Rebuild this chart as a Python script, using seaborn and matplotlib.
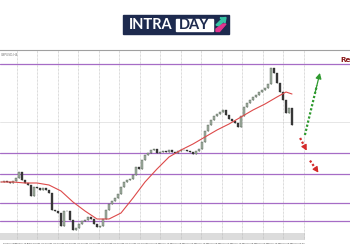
import numpy as np
import pandas as pd
import matplotlib
matplotlib.use("Agg")
import matplotlib.pyplot as plt
import seaborn as sns
from matplotlib.patches import Rectangle, Polygon

# ---------------- data ----------------
closes = [1.1755, 1.1760, 1.1755, 1.1750, 1.1760, 1.1775, 1.1805, 1.1765, 1.1750, 1.1740,
          1.1685, 1.1730, 1.1725, 1.1715, 1.1725, 1.1715, 1.1700, 1.1615, 1.1610, 1.1600,
          1.1535, 1.1610, 1.1610, 1.1565, 1.1515, 1.1525, 1.1545, 1.1560, 1.1565, 1.1580,
          1.1570, 1.1545, 1.1530, 1.1535, 1.1570, 1.1615, 1.1645, 1.1660, 1.1675, 1.1695,
          1.1730, 1.1755, 1.1765, 1.1770, 1.1790, 1.1830, 1.1820, 1.1865, 1.1890, 1.1900,
          1.1915, 1.1920, 1.1900, 1.1905, 1.1910, 1.1905, 1.1915, 1.1905, 1.1900, 1.1910,
          1.1915, 1.1915, 1.1910, 1.1905, 1.1895, 1.1910, 1.1920, 1.1955, 1.2010, 1.2040,
          1.2065, 1.2085, 1.2095, 1.2105, 1.2115, 1.2090, 1.2070, 1.2060, 1.2050, 1.2030,
          1.2085, 1.2130, 1.2150, 1.2165, 1.2180, 1.2190, 1.2205, 1.2215, 1.2225, 1.2245,
          1.2325, 1.2300, 1.2250, 1.2205, 1.2165, 1.2100, 1.2125, 1.2040]
opens = [closes[0]] + closes[:-1]

ma_index = [0, 4, 8, 12, 16, 20, 24, 28, 32, 36, 40, 44, 48, 52, 56, 60, 64, 68,
            72, 76, 80, 84, 88, 92, 95, 97]
ma_values = [1.1755, 1.1755, 1.1750, 1.1750, 1.1740, 1.1710, 1.1655, 1.1610, 1.1570,
             1.1570, 1.1600, 1.1675, 1.1755, 1.1820, 1.1880, 1.1915, 1.1945, 1.1980,
             1.2015, 1.2045, 1.2080, 1.2115, 1.2145, 1.2180, 1.2205, 1.2195]

levels = [1.2345, 1.1900, 1.1795, 1.1650, 1.1560]
grid_price = [1.2055]

tick_labels = ["29 May 2020", "29 May 16:00", "1 Jun 08:00", "2 Jun 00:00", "2 Jun 16:00",
               "3 Jun 08:00", "4 Jun 00:00", "4 Jun 16:00", "5 Jun 08:00", "8 Jun 00:00",
               "8 Jun 16:00", "9 Jun 08:00", "10 Jun 00:00", "10 Jun 16:00", "11 Jun 08:00",
               "12 Jun 00:00", "12 Jun 16:00", "15 Jun 08:00", "16 Jun 00:00", "16 Jun 16:00",
               "17 Jun 08:00", "18 Jun 00:00", "18 Jun 16:00", "19 Jun 08:00", "22 Jun 00:00"]

symbol_label = "GBPUSD,H4"
level_label = "Resistance"

# ---------------- figure ----------------
sns.set_style("white")
plt.rcParams['font.family'] = ['DejaVu Sans']
fig = plt.figure(figsize=(3.5, 2.5), dpi=100)
fig.patch.set_facecolor("white")
ax = fig.add_axes([0, 0.04, 1, 0.76])
ax.set_xlim(-1 / 3, 349 / 3)
ax.set_ylim(1.1465, 1.2415)

df = pd.DataFrame({"i": np.arange(len(closes)), "open": opens, "close": closes})
df["up"] = df["close"] >= df["open"]

# bottom gray band
ax.axhspan(1.1465, 1.1500, xmin=0, xmax=305 / 350, color="#dcdcdc", lw=0, zorder=0)

# vertical grid (minor ticks) and tick labels (major ticks)
grid_x = [(16.7 + 20.5 * k - 1) / 3 for k in range(15)]
ax.set_xticks(grid_x, minor=True)
ax.grid(which="minor", axis="x", color="#b8b8b8", lw=0.5, ls=(0, (1, 1)))
label_x = [(2 + 12 * k) / 3 for k in range(len(tick_labels))]
ax.set_xticks(label_x)
ax.set_xticklabels(tick_labels, ha="left", fontsize=1.5, color="#444444")
ax.tick_params(axis="x", which="both", length=0, pad=1.8)
ax.set_yticks([])
for p in grid_price:
    ax.axhline(p, color="#e2e2e2", lw=0.6, zorder=0.5)

for s in ["left", "right", "bottom"]:
    ax.spines[s].set_visible(False)
ax.spines["top"].set_color("#a0a0a0")
ax.spines["top"].set_linewidth(0.8)

# levels
for lv in levels:
    ax.axhline(lv, color="#a66cc6", lw=0.9, zorder=1)

# candles
up = df[df["up"]]
dn = df[~df["up"]]
ax.vlines(df["i"], df[["open", "close"]].min(axis=1), df[["open", "close"]].max(axis=1),
          color="#3a463a", lw=0.45, zorder=2.5)
ax.bar(up["i"], (up["close"] - up["open"]).clip(lower=0.0002), bottom=up["open"],
       width=0.45, color="#a3b1a3", edgecolor="#3b4a3b", linewidth=0.25, zorder=3)
ax.bar(dn["i"], dn["close"] - dn["open"], bottom=dn["open"],
       width=0.45, color="#3a3a3a", edgecolor="#2a2a2a", linewidth=0.25, zorder=3)

# moving average
sns.lineplot(x=ma_index, y=ma_values, ax=ax, color="#dd4a4a", lw=0.8, zorder=4)
ax.set_xlabel("")
ax.set_ylabel("")


def dotted_arrow(x0, y0, x1, y1, color):
    ax.plot([x0, x0 + 0.8 * (x1 - x0)], [y0, y0 + 0.8 * (y1 - y0)], color=color,
            lw=1.6, ls=(0, (1.0, 0.9)), solid_capstyle="butt", zorder=5)
    ax.annotate("", xy=(x1, y1), xytext=(x0 + 0.7 * (x1 - x0), y0 + 0.7 * (y1 - y0)),
                arrowprops=dict(arrowstyle="-|>,head_width=0.17,head_length=0.32",
                                color=color, lw=0.9, shrinkA=0, shrinkB=0), zorder=5)


dotted_arrow(101.3, 1.1990, 106.3, 1.2300, "#2f9a2f")
dotted_arrow(99.7, 1.1975, 101.9, 1.1912, "#d42a2a")
dotted_arrow(103.0, 1.1862, 105.8, 1.1802, "#d42a2a")

ax.text(113.0, 1.2350, level_label, color="#8b1c1c", fontsize=5.2,
        fontweight="bold", va="bottom", ha="left", clip_on=False)
ax.text(0.003, 0.985, symbol_label, transform=ax.transAxes, fontsize=2.2,
        color="#777777", va="top", ha="left")

# logo
fig.patches.append(Rectangle((123 / 350, 1 - 34 / 250), 106 / 350, 19 / 250,
                             transform=fig.transFigure, color="#1d2a4e", zorder=1))
fig.patches.append(Rectangle((176 / 350, 1 - 31.3 / 250), 37 / 350, 12 / 250,
                             transform=fig.transFigure, color="white", zorder=2))
fig.text(150.5 / 350, 1 - 25.3 / 250, "INTRA", color="white", fontsize=10.5,
         fontweight="bold", family="Lato", ha="center", va="center", zorder=3)
fig.text(194.5 / 350, 1 - 25.3 / 250, "DAY", color="#1d2a4e", fontsize=10.5,
         fontweight="bold", family="Lato", ha="center", va="center", zorder=3)
fig.patches.append(Polygon([(216 / 350, 1 - 25 / 250), (222 / 350, 1 - 19 / 250),
                            (220 / 350, 1 - 18 / 250), (226 / 350, 1 - 17.5 / 250),
                            (225 / 350, 1 - 23 / 250), (223.5 / 350, 1 - 21.5 / 250),
                            (219 / 350, 1 - 26 / 250)],
                           transform=fig.transFigure, color="#36c3a4", zorder=3))
fig.patches.append(Polygon([(216 / 350, 1 - 29 / 250), (223 / 350, 1 - 24 / 250),
                            (226 / 350, 1 - 24 / 250), (219.5 / 350, 1 - 31.5 / 250),
                            (216 / 350, 1 - 31.5 / 250)],
                           transform=fig.transFigure, color="#e2348f", zorder=3))

fig.savefig("out.png", dpi=100)
